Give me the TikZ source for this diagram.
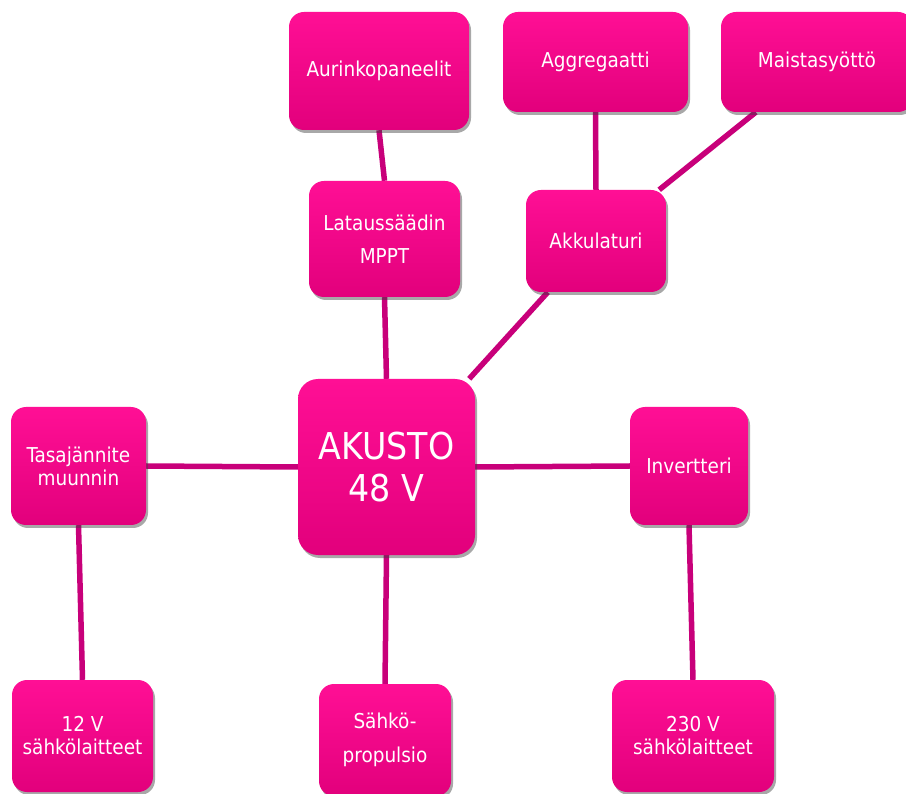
\documentclass[tikz,border=0pt]{standalone}
\usepackage{fontspec}
\setmainfont{DejaVu Sans Condensed}
\usetikzlibrary{shadows,calc}
\pgfdeclarelayer{bottom}
\pgfdeclarelayer{background}
\pgfsetlayers{bottom,background,main}
\definecolor{boxtop}{HTML}{FF0F95}
\definecolor{boxbot}{HTML}{E2007C}
\definecolor{wire}{HTML}{C8007A}
\tikzset{
  box/.style={rectangle, rounded corners=15pt, draw=none, top color=boxtop, bottom color=boxbot,
    text=white, align=center, inner sep=0pt,
    font=\fontsize{20.5}{23}\selectfont,
    drop shadow={shadow xshift=2pt, shadow yshift=-3pt, opacity=0.45, fill=black!75}},
  wirestyle/.style={draw=wire, line width=5.5pt}
}
\begin{document}
\begin{tikzpicture}[x=1pt,y=-1pt]
\useasboundingbox (0,0) rectangle (906,794);
\begin{pgfonlayer}{bottom}
\fill[white] (0,0) rectangle (906,794);
\end{pgfonlayer}
\node[box, minimum width=180pt, minimum height=118pt] (aur) at (379,71) {Aurinkopaneelit};
\node[box, minimum width=185pt, minimum height=100pt] (agg) at (595.5,62) {Aggregaatti};
\node[box, minimum width=192pt, minimum height=100pt] (mai) at (817,62) {Maistasyöttö};
\node[box, minimum width=151pt, minimum height=116pt, font=\fontsize{20.5}{33}\selectfont] (lat) at (384.5,239) {Lataussäädin\\MPPT};
\node[box, minimum width=140pt, minimum height=102pt] (akl) at (596,241) {Akkulaturi};
\node[box, minimum width=177pt, minimum height=176pt, rounded corners=20pt, font=\fontsize{37}{42}\selectfont] (aku) at (386.5,467) {AKUSTO\\48 V};
\node[box, minimum width=135pt, minimum height=118pt] (tas) at (78.5,466) {Tasajännite\\muunnin};
\node[box, minimum width=118pt, minimum height=118pt] (inv) at (689,466) {Invertteri};
\node[box, minimum width=141pt, minimum height=112pt] (v12) at (82.5,736) {12 V\\sähkölaitteet};
\node[box, minimum width=132pt, minimum height=112pt, font=\fontsize{20.5}{34}\selectfont] (sah) at (385,740) {Sähkö-\\propulsio};
\node[box, minimum width=162pt, minimum height=112pt] (v230) at (693,736) {230 V\\sähkölaitteet};
\begin{pgfonlayer}{background}
\draw[wirestyle] (aur.south) -- (lat.north);
\draw[wirestyle] (lat.south) -- (aku.north);
\draw[wirestyle] (agg.south) -- (akl.north);
\draw[wirestyle] ($(mai.south west)+(35,0)$) -- ($(akl.north east)+(-7,0)$);
\draw[wirestyle] ($(akl.south west)+(22,0)$) -- ($(aku.north east)+(-6,0)$);
\draw[wirestyle] (tas.east) -- (aku.west);
\draw[wirestyle] (aku.east) -- (inv.west);
\draw[wirestyle] (tas.south) -- (v12.north);
\draw[wirestyle] (aku.south) -- (sah.north);
\draw[wirestyle] (inv.south) -- (v230.north);
\end{pgfonlayer}
\end{tikzpicture}
\end{document}
